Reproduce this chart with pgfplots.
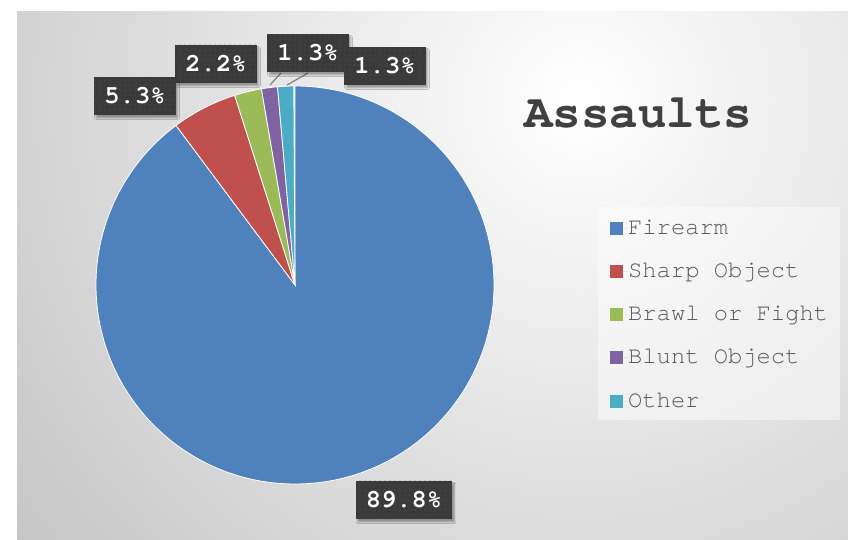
\documentclass[border=0pt]{standalone}
\usepackage{pgfplots}
\pgfplotsset{compat=1.18}
\usepackage{fontspec}
\usetikzlibrary{patterns.meta,shadows.blur}
\newfontfamily\cour{texgyrecursor}[Extension=.otf, UprightFont=*-regular, BoldFont=*-bold]

\definecolor{firearm}{HTML}{4F81BD}
\definecolor{sharp}{HTML}{C0504D}
\definecolor{brawl}{HTML}{9BBB59}
\definecolor{blunt}{HTML}{8064A2}
\definecolor{other}{HTML}{4BACC6}
\definecolor{boxgray}{HTML}{3A3A3A}
\definecolor{dotgray}{HTML}{555555}
\definecolor{titlegray}{HTML}{404040}
\definecolor{leggray}{HTML}{595959}

% pie centre and radius, in axis units (1 unit = 1pt)
\newcommand\cx{295}
\newcommand\cy{255}
\newcommand\rad{199}
% #1 colour, #2 percent before this slice, #3 percent of this slice
\newcommand\slice[3]{%
  \fill[#1, draw=white, line width=0.8pt] (axis cs:\cx,\cy)
    -- ++({90-3.6*#2}:\rad pt)
    arc[start angle={90-3.6*#2}, end angle={90-3.6*(#2+#3)}, radius=\rad pt]
    -- cycle;}

\begin{document}
\begin{tikzpicture}[
    lab/.style={fill=boxgray, text=white,
      font=\cour\bfseries\fontsize{25.5}{30}\selectfont,
      inner xsep=10pt, minimum height=38pt,
      blur shadow={shadow xshift=2pt, shadow yshift=-3pt, shadow opacity=35},
      postaction={pattern={Dots[distance=5pt, radius=0.6pt]}, pattern color=dotgray}}
  ]
  \begin{axis}[
      width=848pt, height=540pt, scale only axis,
      xmin=0, xmax=848, ymin=0, ymax=540,
      hide axis, clip=false,
      legend image code/.code={\fill[#1] (0pt,-6.5pt) rectangle (13pt,6.5pt);
        \path (0pt,0pt) -- (18pt,0pt);},
      legend style={at={(axis description cs:0.7193,0.598)}, anchor=north west,
        draw=none, fill=none, text=leggray,
        font=\cour\fontsize{23.8}{28}\selectfont,
        row sep=21.2pt, inner sep=0pt,
        nodes={inner sep=0pt, text height=17pt, text depth=5pt}},
      legend cell align=left
    ]
    % background
    \fill[white] (axis cs:0,0) rectangle (axis cs:848,540);
    \begin{scope}
      \clip (axis cs:17,0) rectangle (axis cs:848,528);
      \shade[inner color=white, outer color=black!36] (axis cs:580,440) circle (1150pt);
    \end{scope}
    % legend panel
    \fill[white, opacity=0.45] (axis cs:598,120) rectangle (axis cs:840,333);

    % slices: Firearm 89.8, Sharp Object 5.3, Brawl or Fight 2.2, Blunt Object 1.3, Other 1.3
    \slice{firearm}{0}{89.8}
    \slice{sharp}{89.8}{5.3}
    \slice{brawl}{95.1}{2.2}
    \slice{blunt}{97.3}{1.3}
    \slice{other}{98.6}{1.3}

    % leader lines
    \draw[gray, line width=1.2pt] (axis cs:270,455) -- (axis cs:281,467);
    \draw[gray, line width=1.2pt] (axis cs:287,455) -- (axis cs:308,467);

    % data labels
    \node[lab] at (axis cs:135,444) {5.3\%};
    \node[lab] at (axis cs:216,476) {2.2\%};
    \node[lab] at (axis cs:308,487) {1.3\%};
    \node[lab] at (axis cs:385,474) {1.3\%};
    \node[lab] at (axis cs:404,40) {89.8\%};

    % title
    \node[text=titlegray, font=\cour\bfseries\fontsize{47.5}{50}\selectfont]
      at (axis cs:638,427) {Assaults};

    \addlegendimage{fill=firearm, draw=none}
    \addlegendentry{Firearm}
    \addlegendimage{fill=sharp, draw=none}
    \addlegendentry{Sharp Object}
    \addlegendimage{fill=brawl, draw=none}
    \addlegendentry{Brawl or Fight}
    \addlegendimage{fill=blunt, draw=none}
    \addlegendentry{Blunt Object}
    \addlegendimage{fill=other, draw=none}
    \addlegendentry{Other}
  \end{axis}
\end{tikzpicture}
\end{document}
